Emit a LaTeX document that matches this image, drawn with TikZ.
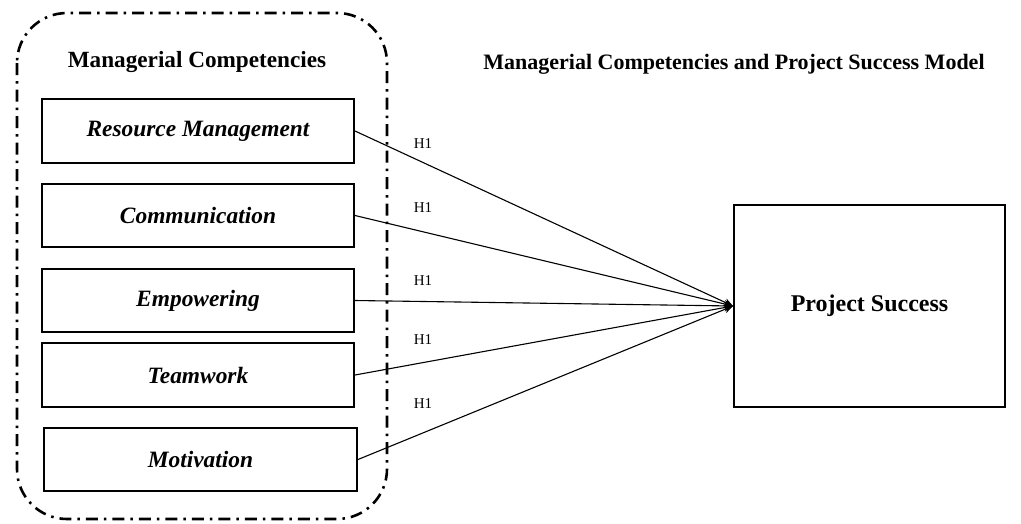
\documentclass[tikz,border=0pt]{standalone}
\usepackage{fontspec}
\setmainfont{Liberation Serif}
\usetikzlibrary{arrows.meta}
\begin{document}
\begin{tikzpicture}[x=1pt,y=-1pt,
  compbox/.style={draw, line width=2pt, inner sep=0pt, font=\fontsize{23.4}{27}\selectfont\bfseries\itshape},
  title/.style={inner sep=0pt, font=\fontsize{22}{26}\selectfont\bfseries},
  hlabel/.style={inner sep=0pt, font=\fontsize{15}{17}\selectfont},
  link/.style={line width=1.1pt, -{Stealth[length=9pt,width=8pt]}},
  group/.style={draw, line width=2.6pt, rounded corners=50pt, dash pattern=on 12pt off 6pt on 2.5pt off 6pt}]
\useasboundingbox (0,0) rectangle (1021,523);
\draw[group] (17,13) rectangle (387,519);
\node[title, font=\fontsize{23.2}{27}\selectfont\bfseries] (gt) at (197,62) {Managerial Competencies};
\node[title] (mt) at (734,64) {Managerial Competencies and Project Success Model};
\node[compbox, minimum width=312pt, minimum height=64pt] (b1) at (198,131) {Resource Management};
\node[compbox, minimum width=312pt, minimum height=63pt] (b2) at (198,215.5) {Communication};
\node[compbox, minimum width=312pt, minimum height=63pt] (b3) at (198,300.5) {Empowering};
\node[compbox, minimum width=312pt, minimum height=64pt] (b4) at (198,375) {Teamwork};
\node[compbox, minimum width=313pt, minimum height=63pt] (b5) at (200.5,459.5) {Motivation};
\node[draw, line width=2pt, minimum width=271pt, minimum height=202pt, inner sep=0pt,
      font=\fontsize{24}{28}\selectfont\bfseries] (ps) at (869.5,306) {Project Success};
\foreach \i in {1,...,5} \draw[link] (b\i.east) -- (ps.west);
\node[hlabel] (h1) at (423,144) {H1};
\node[hlabel] (h2) at (423,208) {H1};
\node[hlabel] (h3) at (423,281) {H1};
\node[hlabel] (h4) at (423,340) {H1};
\node[hlabel] (h5) at (423,404) {H1};
\end{tikzpicture}
\end{document}
